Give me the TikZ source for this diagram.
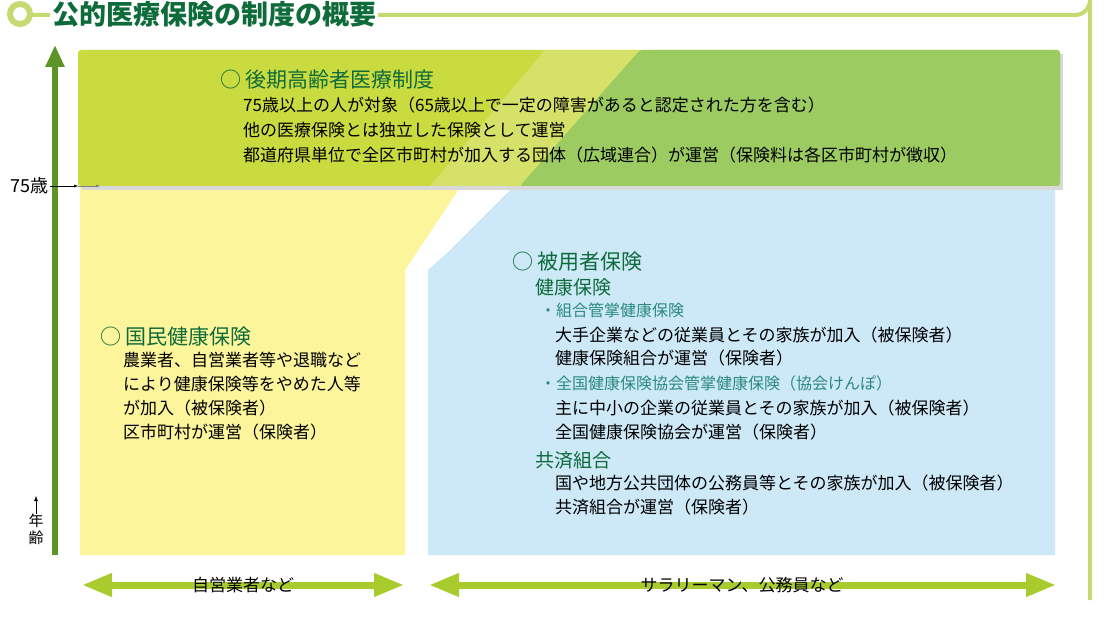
\documentclass[tikz,border=0pt]{standalone}
\usepackage{fontspec}
\setmainfont{Noto Sans CJK JP}
\usetikzlibrary{arrows.meta}
\definecolor{ring}{HTML}{C5DB72}
\definecolor{dkgreen}{HTML}{0E6B3A}
\definecolor{axis}{HTML}{5C9428}
\definecolor{pale}{HTML}{FCF59B}
\definecolor{sky}{HTML}{CDE8F7}
\definecolor{lime}{HTML}{CADB3F}
\definecolor{band}{HTML}{D6E16A}
\definecolor{leaf}{HTML}{9CCB62}
\definecolor{teal}{HTML}{2A8A7E}
\definecolor{span}{HTML}{A9CB2E}
\tikzset{
  body/.style={anchor=west,inner sep=0pt,font=\fontsize{17}{20}\selectfont},
  head/.style={anchor=west,inner sep=0pt,text=dkgreen,font=\fontsize{21}{24}\selectfont},
  sub/.style={anchor=west,inner sep=0pt,text=teal,font=\fontsize{16}{19}\selectfont},
  spanarrow/.style={line width=7pt,draw=span,{Triangle[width=22pt,length=30pt]}-{Triangle[width=22pt,length=30pt]}}
}
\begin{document}
\begin{tikzpicture}[x=1pt,y=-1pt]
  \useasboundingbox (0,0) rectangle (1107,617);
%
  \draw[ring,line width=4pt] (30,15) -- (1075,15) arc (90:0:15) -- (1090,600);
  \draw[ring,line width=6pt,fill=white] (20,14) circle (10);
  \node[anchor=west,inner sep=2pt,text=dkgreen,font=\fontsize{27}{30}\bfseries\selectfont,fill=white] (title) at (50,14) {公的医療保険の制度の概要};
%
  \fill[pale] (80,60) -- (545,60) -- (405,270) -- (405,555) -- (80,555) -- cycle;
  \fill[sky] (640,60) -- (1055,60) -- (1055,555) -- (428,555) -- (428,270) -- (448,252) -- cycle;
%
  \fill[black!15] (82,54) rectangle (1063,190);
  \fill[lime,rounded corners=3pt] (78,50) rectangle (1060,186);
  \fill[band] (545,50) -- (640,50) -- (520,186) -- (430,186) -- cycle;
  \fill[leaf,rounded corners=3pt] (640,50) -- (1060,50) -- (1060,186) -- (520,186) -- cycle;
%
  \coordinate (top) at (55,45);
  \coordinate (bottom) at (55,555);
  \draw[axis,line width=6pt,-{Triangle[width=18pt,length=22pt]}] (bottom) -- (top);
%
  \node[anchor=east,inner sep=1pt,font=\fontsize{18}{20}\selectfont] (age75) at (50,186) {75歳};
  \coordinate (m1) at (78,186);
  \coordinate (m2) at (100,186);
  \draw[-{Latex[length=4pt]}] (age75) -- (m1);
  \draw[black!50,-{Latex[length=4pt]}] (m1) -- (m2);
%
  \node[inner sep=0pt,font=\fontsize{15}{15}\selectfont] (nen) at (36,521) {年};
  \node[inner sep=0pt,font=\fontsize{15}{15}\selectfont] (rei) at (36,538) {齢};
  \coordinate (agetip) at (36,496);
  \draw[-{Latex[length=5pt]}] (nen.north) -- (agetip);
%
  \node[head] (late) at (220,80) {○ 後期高齢者医療制度};
  \node[body] (late1) at (243,105) {75歳以上の人が対象（65歳以上で一定の障害があると認定された方を含む）};
  \node[body] (late2) at (243,130) {他の医療保険とは独立した保険として運営};
  \node[body] (late3) at (243,155) {都道府県単位で全区市町村が加入する団体（広域連合）が運営（保険料は各区市町村が徴収）};
%
  \node[head] (kokuho) at (100,337) {○ 国民健康保険};
  \node[body] (kok1) at (123,360) {農業者、自営業者等や退職など};
  \node[body] (kok2) at (123,384) {により健康保険等をやめた人等};
  \node[body] (kok3) at (123,408) {が加入（被保険者）};
  \node[body] (kok4) at (123,432) {区市町村が運営（保険者）};
%
  \node[head] (hiyo) at (512,262) {○ 被用者保険};
  \node[head,font=\fontsize{19}{22}\selectfont] (kenpo) at (535,287) {健康保険};
  \node[sub] (kumiai) at (540,310) {・組合管掌健康保険};
  \node[body] (kum1) at (555,335) {大手企業などの従業員とその家族が加入（被保険者）};
  \node[body] (kum2) at (555,358) {健康保険組合が運営（保険者）};
  \node[sub] (kyokai) at (540,383) {・全国健康保険協会管掌健康保険（協会けんぽ）};
  \node[body] (kyo1) at (555,408) {主に中小の企業の従業員とその家族が加入（被保険者）};
  \node[body] (kyo2) at (555,432) {全国健康保険協会が運営（保険者）};
  \node[head,font=\fontsize{19}{22}\selectfont] (kyosai) at (535,460) {共済組合};
  \node[body] (kys1) at (555,483) {国や地方公共団体の公務員等とその家族が加入（被保険者）};
  \node[body] (kys2) at (555,507) {共済組合が運営（保険者）};
%
  \coordinate (self1) at (82,585);
  \coordinate (self2) at (404,585);
  \coordinate (sal1) at (429,585);
  \coordinate (sal2) at (1056,585);
  \draw[spanarrow] (self1) -- (self2);
  \draw[spanarrow] (sal1) -- (sal2);
  \node[inner sep=0pt,font=\fontsize{17}{20}\selectfont] (selflbl) at (243,585) {自営業者など};
  \node[inner sep=0pt,font=\fontsize{17}{20}\selectfont] (sallbl) at (742,585) {サラリーマン、公務員など};
\end{tikzpicture}
\end{document}
